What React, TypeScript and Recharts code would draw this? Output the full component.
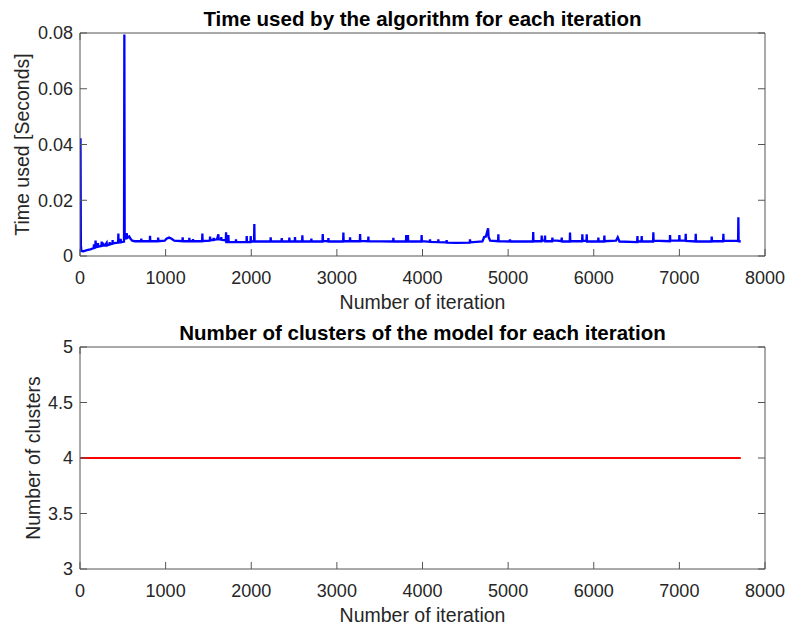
import React from "react";
import { LineChart, Line, XAxis, YAxis, Label } from "recharts";

// [iteration, seconds] (spikes kept as narrow triples)
const timeTrace: [number, number][] = [
  [2, 0.0045], [6, 0.0422], [10, 0.004], [16, 0.0018], [40, 0.0017], [80, 0.0021], [120, 0.0024],
  [160, 0.0028], [163, 0.0042], [166, 0.0029], [178, 0.003], [182, 0.0055], [186, 0.0032],
  [207, 0.0033], [210, 0.0046], [213, 0.0034], [250, 0.0036], [253, 0.0052], [256, 0.0037],
  [266, 0.0037], [269, 0.0048], [272, 0.0037], [290, 0.0037], [311, 0.0047], [314, 0.0038],
  [344, 0.0041], [347, 0.005], [350, 0.0042], [378, 0.0044], [381, 0.0057], [384, 0.0045],
  [420, 0.0047], [445, 0.0048], [448, 0.0081], [451, 0.0049], [472, 0.0049], [475, 0.0062],
  [478, 0.005], [500, 0.0051], [514, 0.0052], [518, 0.0795], [522, 0.006], [535, 0.0072],
  [545, 0.0082], [552, 0.0065], [575, 0.007], [590, 0.0062], [610, 0.0055], [640, 0.0053],
  [713, 0.0053], [716, 0.0062], [719, 0.0053],
  [815, 0.0053], [818, 0.0072], [821, 0.0053], [910, 0.0053], [913, 0.0066], [916, 0.0053],
  [990, 0.0055], [1010, 0.0062], [1040, 0.0066], [1070, 0.0062], [1100, 0.0055],
  [1196, 0.0053], [1199, 0.0067], [1202, 0.0053], [1274, 0.0053], [1277, 0.0065], [1280, 0.0053],
  [1317, 0.0053], [1320, 0.006], [1323, 0.0053],
  [1426, 0.0053], [1429, 0.0081], [1432, 0.0054], [1516, 0.0055], [1519, 0.007], [1522, 0.0058],
  [1557, 0.0057], [1560, 0.0065], [1563, 0.0058],
  [1600, 0.006], [1616, 0.0078], [1620, 0.006], [1647, 0.0059], [1650, 0.0068], [1653, 0.0058],
  [1660, 0.0058], [1703, 0.0056], [1706, 0.0085],
  [1709, 0.005], [1730, 0.005], [1733, 0.0075], [1736, 0.005], [1819, 0.005], [1822, 0.006],
  [1825, 0.005], [1944, 0.005], [1947, 0.0072], [1950, 0.005], [1991, 0.005], [1994, 0.0072],
  [1997, 0.0052], [2033, 0.0052], [2036, 0.0115], [2039, 0.0052], [2224, 0.0052], [2227, 0.0067],
  [2230, 0.0052], [2353, 0.0052], [2356, 0.0064], [2359, 0.0052], [2442, 0.0052], [2445, 0.0066],
  [2448, 0.0052], [2508, 0.0052], [2511, 0.0068], [2514, 0.0052], [2594, 0.0052], [2597, 0.0074],
  [2600, 0.0052], [2699, 0.0052], [2702, 0.0062], [2705, 0.0052],
  [2832, 0.0052], [2835, 0.0079], [2838, 0.0054], [2898, 0.0053], [2901, 0.0064],
  [2904, 0.0052], [3073, 0.0052], [3076, 0.0084], [3079, 0.0053], [3151, 0.0053], [3154, 0.0067],
  [3157, 0.0053], [3268, 0.0053], [3271, 0.0079], [3274, 0.0054], [3365, 0.0053], [3368, 0.007],
  [3371, 0.0053], [3657, 0.0052], [3660, 0.0065], [3663, 0.0052], [3807, 0.0052], [3810, 0.0075],
  [3813, 0.0053], [3827, 0.0053], [3830, 0.0075], [3833, 0.0052], [3987, 0.0052], [3990, 0.0075],
  [3993, 0.0053], [4085, 0.0051], [4088, 0.006], [4091, 0.0051], [4182, 0.005], [4185, 0.006],
  [4188, 0.005], [4279, 0.0049], [4282, 0.0057], [4285, 0.0048], [4400, 0.0047], [4552, 0.0048],
  [4555, 0.006], [4558, 0.0049], [4700, 0.0052], [4720, 0.0068], [4740, 0.007], [4766, 0.0099],
  [4772, 0.0068], [4790, 0.0055], [4883, 0.0053], [4886, 0.0078], [4889, 0.0053], [5019, 0.0052],
  [5022, 0.006], [5025, 0.0052], [5290, 0.0052], [5293, 0.0086], [5296, 0.0053], [5389, 0.0053],
  [5392, 0.0073], [5395, 0.0055], [5428, 0.0055], [5431, 0.0073], [5434, 0.0053], [5514, 0.0053],
  [5517, 0.0066], [5520, 0.0055], [5570, 0.0055], [5623, 0.0053], [5626, 0.0066], [5629, 0.0052],
  [5720, 0.0052], [5723, 0.0084], [5726, 0.0053], [5864, 0.0053], [5867, 0.0078], [5870, 0.0054],
  [5915, 0.0054], [5918, 0.0078], [5921, 0.0052], [6051, 0.0052], [6054, 0.0066], [6057, 0.0052],
  [6121, 0.0052], [6124, 0.0073], [6127, 0.0053], [6260, 0.0055], [6280, 0.0067], [6300, 0.0052],
  [6507, 0.005], [6510, 0.0072], [6513, 0.0052], [6557, 0.0052], [6560, 0.0072], [6563, 0.0052],
  [6693, 0.0052], [6696, 0.0085], [6699, 0.0055], [6888, 0.0053], [6891, 0.0075], [6894, 0.0055],
  [6997, 0.0055], [7000, 0.0075], [7003, 0.0055], [7071, 0.0055], [7074, 0.008], [7077, 0.0054],
  [7188, 0.0052], [7191, 0.008], [7194, 0.0052], [7375, 0.0052], [7378, 0.007], [7381, 0.0053],
  [7511, 0.0053], [7514, 0.008], [7517, 0.0054], [7686, 0.0054], [7689, 0.0139], [7692, 0.0053],
  [7717, 0.0052],
];

const clusterIters = [1, 7717];
const clusterCounts = [4, 4];

const iterTicks = [0, 1000, 2000, 3000, 4000, 5000, 6000, 7000, 8000];
const timeTicks = [0, 0.02, 0.04, 0.06, 0.08];
const clusterTicks = [3, 3.5, 4, 4.5, 5];

const timeData = timeTrace.map(([iter, t]) => ({ iter, t }));
const clusterData = clusterIters.map((iter, i) => ({ iter, n: clusterCounts[i] }));

const AXIS = "#555555";
const TXT = "#262626";
const FONT = "'Liberation Sans', Arial, Helvetica, sans-serif";

const titleLabel = (text: string) => (p: any) => {
  const vb = p.viewBox || {};
  return (
    <text x={vb.x + vb.width / 2} y={vb.y + vb.height - 7} textAnchor="middle"
      fontSize={20.5} fontWeight="bold" fill="#000" fontFamily={FONT}>
      {text}
    </text>
  );
};

const xTitle = (text: string) => (p: any) => {
  const vb = p.viewBox || {};
  return (
    <text x={vb.x + vb.width / 2} y={vb.y + 52.5} textAnchor="middle"
      fontSize={19.5} fill={TXT} fontFamily={FONT}>
      {text}
    </text>
  );
};

const yTitle = (text: string, cx: number) => (p: any) => {
  const vb = p.viewBox || {};
  const cy = vb.y + vb.height / 2;
  return (
    <text x={cx} y={cy} transform={`rotate(-90, ${cx}, ${cy})`} textAnchor="middle"
      dominantBaseline="central" fontSize={19.5} fill={TXT} fontFamily={FONT}>
      {text}
    </text>
  );
};

function Panel(props: {
  data: any[];
  dataKey: string;
  color: string;
  width: number;
  height: number;
  yDomain: [number, number];
  yTicks: number[];
  yFmt: (v: number) => string;
  title: string;
  yLabel: string;
  yLabelX: number;
  strokeWidth: number;
}) {
  const tick = { fill: TXT, fontSize: 18, fontFamily: FONT };
  const blank = () => "";
  return (
    <LineChart width={props.width} height={props.height} data={props.data}
      margin={{ top: 32, right: 24, bottom: 7, left: 10 }}>
      <XAxis xAxisId="b" dataKey="iter" type="number" domain={[0, 8000]} ticks={iterTicks}
        height={50} stroke={AXIS} tickSize={-7} tickMargin={22} tick={tick}
        allowDataOverflow>
        <Label content={xTitle("Number of iteration")} />
      </XAxis>
      <XAxis xAxisId="t" orientation="top" type="number" domain={[0, 8000]} ticks={iterTicks}
        height={1} stroke={AXIS} tickSize={-7} tickFormatter={blank} allowDataOverflow>
        <Label content={titleLabel(props.title)} />
      </XAxis>
      <YAxis yAxisId="l" type="number" domain={props.yDomain} ticks={props.yTicks} width={70}
        stroke={AXIS} tickSize={-7} tickMargin={14} tick={tick} tickFormatter={props.yFmt}
        allowDataOverflow>
        <Label content={yTitle(props.yLabel, props.yLabelX)} />
      </YAxis>
      <YAxis yAxisId="r" orientation="right" type="number" domain={props.yDomain}
        ticks={props.yTicks} width={1} stroke={AXIS} tickSize={-7} tickFormatter={blank}
        allowDataOverflow />
      <Line xAxisId="b" yAxisId="l" type="linear" dataKey={props.dataKey} stroke={props.color}
        strokeWidth={props.strokeWidth} dot={false} activeDot={false}
        isAnimationActive={false} />
    </LineChart>
  );
}

export default function App() {
  return (
    <div style={{ position: "absolute", left: 0, top: 0, width: 790, height: 626,
      overflow: "hidden", background: "#fff", fontFamily: FONT }}>
      <div style={{ position: "absolute", left: 0, top: 0 }}>
        <Panel data={timeData} dataKey="t" color="#0000ff" width={790} height={313}
          yDomain={[0, 0.08]} yTicks={timeTicks}
          yFmt={(v) => (v === 0 ? "0" : v.toFixed(2))}
          title="Time used by the algorithm for each iteration"
          yLabel="Time used [Seconds]" yLabelX={22} strokeWidth={2.3} />
      </div>
      <div style={{ position: "absolute", left: 0, top: 314 }}>
        <Panel data={clusterData} dataKey="n" color="#ff0000" width={790} height={312}
          yDomain={[3, 5]} yTicks={clusterTicks} yFmt={(v) => String(v)}
          title="Number of clusters of the model for each iteration"
          yLabel="Number of clusters" yLabelX={33} strokeWidth={2} />
      </div>
    </div>
  );
}
